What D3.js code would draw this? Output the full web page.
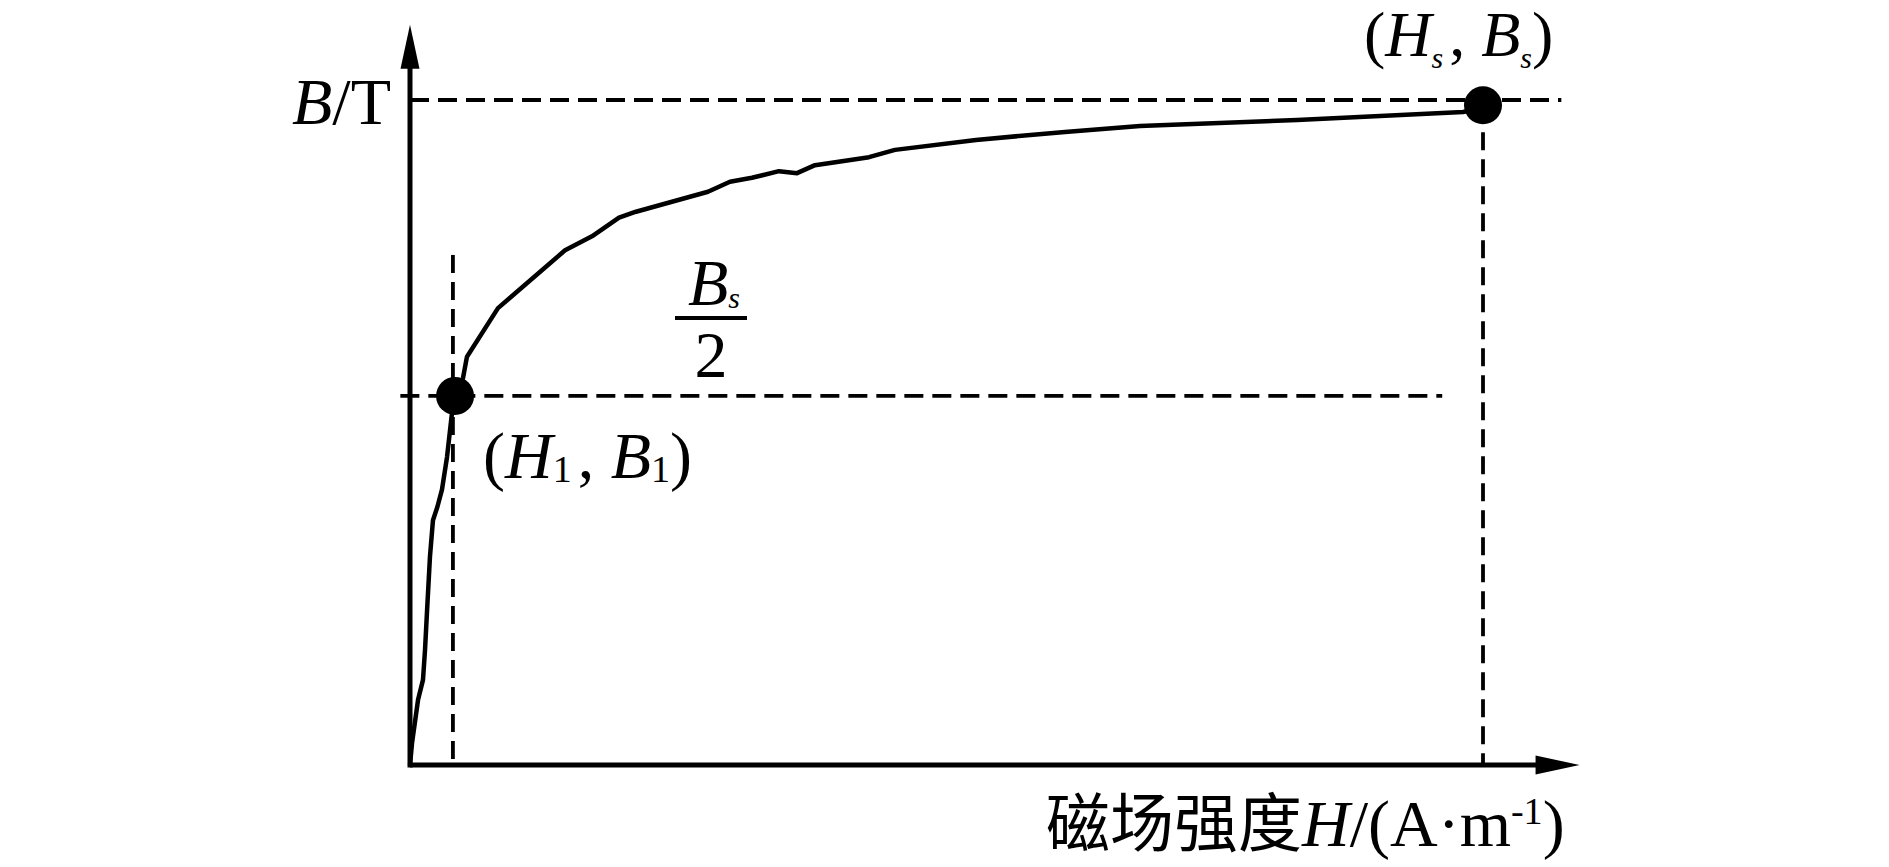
<!DOCTYPE html>
<html>
<head>
<meta charset="utf-8">
<script src="https://cdn.jsdelivr.net/npm/d3@7"></script>
<style>
  html, body { margin: 0; padding: 0; background: #fff; }
  svg { display: block; }
  text { font-family: "Liberation Serif", "Times New Roman", serif; fill: #000; }
  .cjk { font-family: "Noto Sans CJK SC", sans-serif; }
</style>
</head>
<body>
<svg id="chart"></svg>
<script>
// magnetisation curve (H scaled so Hs = 100, B so the top guide = 1)
const hValues = [0, 0.19, 0.75, 1.21, 1.4, 1.58, 1.86, 2.14, 2.55, 2.98, 3.45, 3.91, 4.29, 4.94, 5.31, 8.2,
  14.45, 16.96, 19.48, 21.06, 27.77, 29.82, 31.87, 34.39, 36.07, 37.74, 42.78, 45.2, 52.75, 61.04, 68.03, 82.67, 98.14, 100];
const bValues = [0, 0.033, 0.098, 0.128, 0.173, 0.229, 0.313, 0.368, 0.388, 0.414, 0.463, 0.529, 0.555, 0.582, 0.614, 0.687,
  0.774, 0.795, 0.823, 0.832, 0.862, 0.877, 0.883, 0.893, 0.89, 0.902, 0.914, 0.925, 0.94, 0.952, 0.961, 0.97, 0.982, 0.988];

// marked points: (H1, B1) and (Hs, Bs)
const markH = [4.2, 100];
const markB = [0.555, 0.992];
const guideB = [1, 0.555];   // horizontal dashed guides
const guideH = [4.0, 100];   // vertical dashed guides
const axisMax = [109, 1.113]; // arrow tips (H, B)

const width = 1889, height = 867;
const svg = d3.select('#chart').attr('width', width).attr('height', height);

const x = d3.scaleLinear().domain([0, 100]).range([410, 1483]);
const y = d3.scaleLinear().domain([0, 1]).range([765, 100]);

const points = hValues.map((h, i) => [h, bValues[i]]);

// dashed guides
const dash = '19,9';
svg.append('line')
  .attr('x1', x(0)).attr('x2', x(107.3))
  .attr('y1', y(guideB[0])).attr('y2', y(guideB[0]))
  .attr('stroke', '#000').attr('stroke-width', 3.8).attr('stroke-dasharray', dash);
svg.append('line')
  .attr('x1', x(-0.9)).attr('x2', x(96.2))
  .attr('y1', y(guideB[1])).attr('y2', y(guideB[1]))
  .attr('stroke', '#000').attr('stroke-width', 3.8).attr('stroke-dasharray', dash);
svg.append('line')
  .attr('x1', x(guideH[0])).attr('x2', x(guideH[0]))
  .attr('y1', y(0.767)).attr('y2', y(0))
  .attr('stroke', '#000').attr('stroke-width', 3.8).attr('stroke-dasharray', '18,9');
svg.append('line')
  .attr('x1', x(guideH[1])).attr('x2', x(guideH[1]))
  .attr('y1', y(markB[1])).attr('y2', y(0))
  .attr('stroke', '#000').attr('stroke-width', 3.8).attr('stroke-dasharray', '18,9');

// axes with arrow heads
const ax = svg.append('g');
ax.append('line')
  .attr('x1', x(0)).attr('x2', x(axisMax[0]) - 40)
  .attr('y1', y(0)).attr('y2', y(0))
  .attr('stroke', '#000').attr('stroke-width', 5);
ax.append('line')
  .attr('x1', x(0)).attr('x2', x(0))
  .attr('y1', y(0) + 2.5).attr('y2', y(axisMax[1]) + 40)
  .attr('stroke', '#000').attr('stroke-width', 5);
ax.append('path')
  .attr('d', `M${x(axisMax[0])},${y(0)} L${x(axisMax[0]) - 44},${y(0) - 9.5} L${x(axisMax[0]) - 44},${y(0) + 9.5}Z`)
  .attr('fill', '#000');
ax.append('path')
  .attr('d', `M${x(0)},${y(axisMax[1])} L${x(0) - 9.5},${y(axisMax[1]) + 44} L${x(0) + 9.5},${y(axisMax[1]) + 44}Z`)
  .attr('fill', '#000');

// curve
svg.append('path')
  .datum(points)
  .attr('d', d3.line().x(d => x(d[0])).y(d => y(d[1])).curve(d3.curveLinear))
  .attr('fill', 'none')
  .attr('stroke', '#000')
  .attr('stroke-width', 4.5)
  .attr('stroke-linejoin', 'round');

// marked points
svg.selectAll('circle.mark')
  .data(markH.map((h, i) => [h, markB[i]]))
  .join('circle')
  .attr('class', 'mark')
  .attr('cx', d => x(d[0]))
  .attr('cy', d => y(d[1]))
  .attr('r', 19)
  .attr('fill', '#000');

// labels
const fs = 66;

const yLabel = svg.append('text').attr('x', 292).attr('y', 124).attr('font-size', fs);
yLabel.append('tspan').attr('font-style', 'italic').text('B');
yLabel.append('tspan').text('/T');

function pointLabel(px, py, size, sub, subSize, subDy, subItalic) {
  const t = svg.append('text').attr('x', px).attr('y', py).attr('font-size', size);
  t.append('tspan').text('(');
  t.append('tspan').attr('font-style', 'italic').text('H');
  t.append('tspan').attr('font-size', subSize).attr('dy', subDy)
    .attr('font-style', subItalic ? 'italic' : 'normal').text(sub);
  t.append('tspan').attr('dy', -subDy).attr('dx', 6).text(', ');
  t.append('tspan').attr('font-style', 'italic').text('B');
  t.append('tspan').attr('font-size', subSize).attr('dy', subDy)
    .attr('font-style', subItalic ? 'italic' : 'normal').text(sub);
  t.append('tspan').attr('dy', -subDy).text(')');
}
pointLabel(1364, 56, 64, 's', 30, 12, true);
pointLabel(483, 478, fs, '1', 38, 4, false);

// Bs / 2 fraction
const fracX = 711;
const num = svg.append('text').attr('x', fracX + 3).attr('y', 305).attr('font-size', fs).attr('text-anchor', 'middle');
num.append('tspan').attr('font-style', 'italic').text('B');
num.append('tspan').attr('font-style', 'italic').attr('font-size', 30).attr('dy', 3).text('s');
svg.append('line')
  .attr('x1', 675).attr('x2', 747).attr('y1', 318).attr('y2', 318)
  .attr('stroke', '#000').attr('stroke-width', 4);
svg.append('text').attr('x', fracX).attr('y', 377).attr('font-size', fs).attr('text-anchor', 'middle').text('2');

// x label
const xLabel = svg.append('text').attr('x', 1046).attr('y', 846).attr('font-size', fs);
xLabel.append('tspan').attr('class', 'cjk').attr('font-size', 64).text('磁场强度');
xLabel.append('tspan').attr('font-style', 'italic').text('H');
xLabel.append('tspan').text('/(A·m');
xLabel.append('tspan').attr('font-size', 38).attr('dy', -22).text('-1');
xLabel.append('tspan').attr('dy', 22).text(')');
</script>
</body>
</html>
